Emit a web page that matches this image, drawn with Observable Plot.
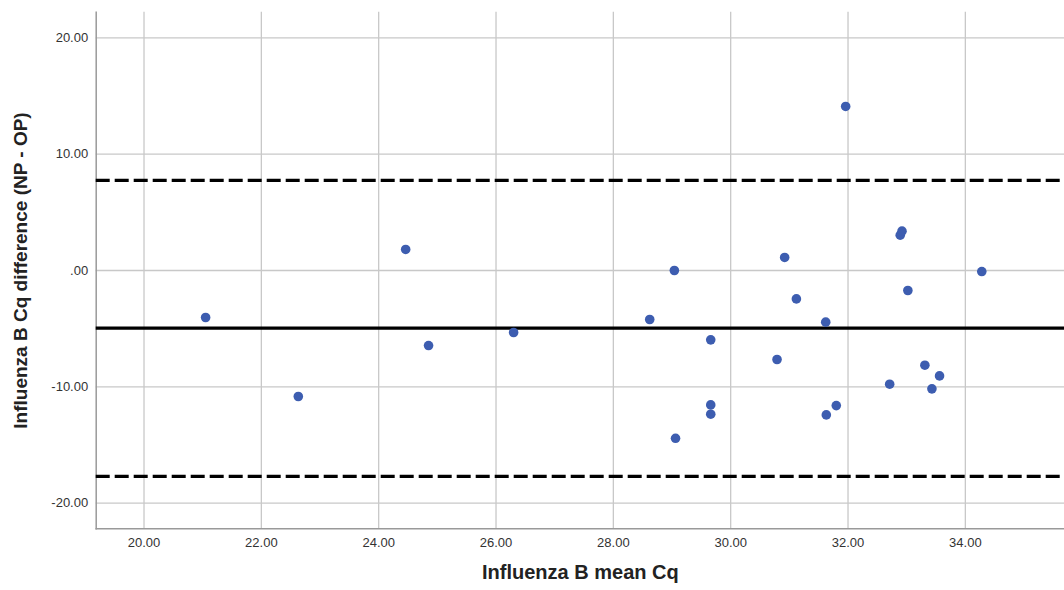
<!DOCTYPE html>
<html>
<head>
<meta charset="utf-8">
<script src="https://cdn.jsdelivr.net/npm/d3@7"></script>
<script src="https://cdn.jsdelivr.net/npm/@observablehq/plot@0.6"></script>
<style>
  html, body { margin: 0; padding: 0; background: #fff; }
  #chart svg { display: block; font-family: "Liberation Sans", Arial, sans-serif; }
</style>
</head>
<body>
<div id="chart"></div>
<script>
// Mean Cq (x) and Cq difference NP - OP (y)
const meanCq = [21.05, 22.63, 24.46, 24.85, 26.30, 28.62, 29.04, 29.06, 29.66, 29.66, 29.66,
  30.79, 30.92, 31.12, 31.62, 31.63, 31.80, 31.96, 32.71, 32.89, 32.92, 33.02, 33.31, 33.43, 33.56, 34.28];
const diffCq = [-4.04, -10.83, 1.81, -6.45, -5.33, -4.21, 0.00, -14.42, -5.96, -11.55, -12.35,
  -7.65, 1.12, -2.44, -4.44, -12.41, -11.61, 14.10, -9.77, 3.04, 3.38, -1.72, -8.14, -10.17, -9.06, -0.09];
const meanDiff = [-4.96];
const limits = [7.74, -17.69];
const xTicks = [20, 22, 24, 26, 28, 30, 32, 34];
const yTicks = [-20, -10, 0, 10, 20];
const xTitle = "Influenza B mean Cq";
const yTitle = "Influenza B Cq difference (NP - OP)";

const points = meanCq.map((x, i) => ({x, y: diffCq[i]}));
const fmt = d => d === 0 ? ".00" : d.toFixed(2);

const chart = Plot.plot({
  width: 1064,
  height: 590,
  marginLeft: 95.7,
  marginRight: 0,
  marginTop: 11.7,
  marginBottom: 61.7,
  style: {background: "#fff", fontFamily: "Liberation Sans, Arial, sans-serif"},
  x: {domain: [19.185, 35.69], ticks: xTicks},
  y: {domain: [-22.2, 22.2], ticks: yTicks},
  marks: [
    Plot.gridX(xTicks, {stroke: "#c8c8c8", strokeOpacity: 1, strokeWidth: 1.3}),
    Plot.gridY(yTicks, {stroke: "#c8c8c8", strokeOpacity: 1, strokeWidth: 1.3}),
    Plot.axisX(xTicks, {tickSize: 0, tickPadding: 9, tickFormat: fmt, fontSize: 13, fill: "#333", label: null}),
    Plot.axisY(yTicks, {tickSize: 0, tickPadding: 8, tickFormat: fmt, fontSize: 13, fill: "#333", label: null}),
    Plot.frame({anchor: "left", stroke: "#999", strokeWidth: 1.5}),
    Plot.frame({anchor: "bottom", stroke: "#999", strokeWidth: 1.5}),
    Plot.ruleY(limits, {stroke: "#000", strokeWidth: 3.2, strokeDasharray: "14,5"}),
    Plot.ruleY(meanDiff, {stroke: "#000", strokeWidth: 3.2}),
    Plot.dot(points, {x: "x", y: "y", r: 4.8, fill: "#3d5db0", stroke: "none"}),
    Plot.text([xTitle], {frameAnchor: "bottom", dy: 50, fontSize: 20, fontWeight: "bold", fill: "#222", textAnchor: "middle"}),
    Plot.text([yTitle], {frameAnchor: "left", dx: -75, rotate: -90, fontSize: 19, fontWeight: "bold", fill: "#222", textAnchor: "middle"})
  ]
});
document.getElementById("chart").appendChild(chart);
</script>
</body>
</html>
